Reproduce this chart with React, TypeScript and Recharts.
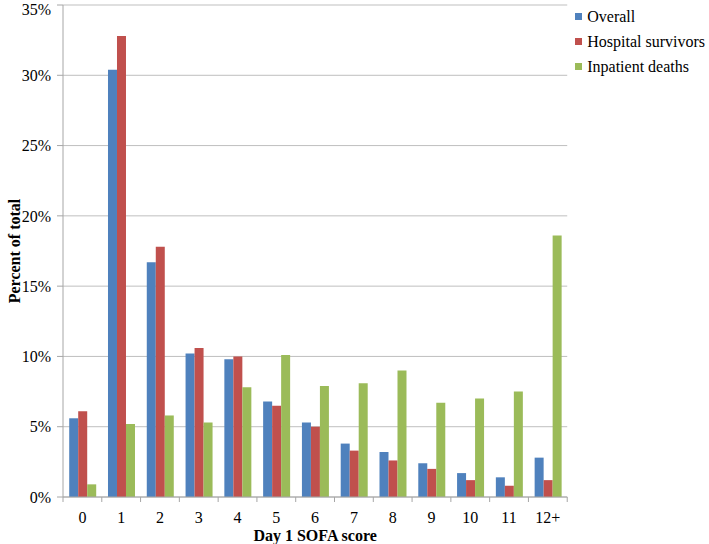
import { Bar, BarChart, CartesianGrid, Legend, XAxis, YAxis } from 'recharts'

const categories = ['0', '1', '2', '3', '4', '5', '6', '7', '8', '9', '10', '11', '12+']
const overall = [5.6, 30.4, 16.7, 10.2, 9.8, 6.8, 5.3, 3.8, 3.2, 2.4, 1.7, 1.4, 2.8]
const survivors = [6.1, 32.8, 17.8, 10.6, 10.0, 6.5, 5.0, 3.3, 2.6, 2.0, 1.2, 0.8, 1.2]
const deaths = [0.9, 5.2, 5.8, 5.3, 7.8, 10.1, 7.9, 8.1, 9.0, 6.7, 7.0, 7.5, 18.6]
const yTicks = [0, 5, 10, 15, 20, 25, 30, 35]

const series = [
  { key: 'overall', name: 'Overall', color: '#4F81BD' },
  { key: 'survivors', name: 'Hospital survivors', color: '#C0504D' },
  { key: 'deaths', name: 'Inpatient deaths', color: '#9BBB59' },
]

const chartData = categories.map((c, i) => ({
  score: c,
  overall: overall[i],
  survivors: survivors[i],
  deaths: deaths[i],
}))

const FONT = 'Liberation Serif'
const AXIS = '#a6a6a6'

const XTick = (props: any) => {
  const { x, y, payload, index, visibleTicksCount } = props
  const half = payload?.offset ?? 0
  return (
    <g>
      <line x1={x - half} x2={x - half} y1={y - 8} y2={y - 3} stroke={AXIS} />
      {index === visibleTicksCount - 1 && (
        <line x1={x + half} x2={x + half} y1={y - 8} y2={y - 3} stroke={AXIS} />
      )}
      <text x={x} y={y + 18} textAnchor="middle" fill="#000" fontSize={16} fontFamily={FONT}>
        {payload.value}
      </text>
    </g>
  )
}

const LegendBox = () => (
  <div style={{ fontFamily: FONT, fontSize: 16, color: '#000' }}>
    {series.map((s) => (
      <div key={s.key} style={{ display: 'flex', alignItems: 'center', height: 25 }}>
        <span style={{ width: 7, height: 7, background: s.color, marginRight: 5, display: 'inline-block' }} />
        {s.name}
      </div>
    ))}
  </div>
)

export default function App() {
  return (
    <div style={{ position: 'absolute', left: 0, top: 0, width: 709, height: 544, background: '#fff' }}>
      <BarChart
        width={709}
        height={544}
        data={chartData}
        margin={{ top: 5, right: 12, left: 0, bottom: 0 }}
        barCategoryGap="16%"
        barGap={0}
      >
        <CartesianGrid vertical={false} stroke="#bfbfbf" />
        <XAxis
          dataKey="score"
          height={47}
          stroke={AXIS}
          tickLine={false}
          tick={<XTick />}
          interval={0}
          label={{
            value: 'Day 1 SOFA score',
            position: 'insideBottom',
            offset: 3,
            style: { fill: '#000', fontSize: 16, fontWeight: 'bold', fontFamily: FONT },
          }}
        />
        <YAxis
          width={63}
          domain={[0, 35]}
          ticks={yTicks}
          stroke={AXIS}
          tickSize={6}
          tickMargin={6}
          tickFormatter={(v) => `${v}%`}
          tick={{ fill: '#000', fontSize: 16, fontFamily: FONT }}
          label={{
            value: 'Percent of total',
            angle: -90,
            position: 'insideLeft',
            offset: 14,
            style: { fill: '#000', fontSize: 16, fontWeight: 'bold', fontFamily: FONT, textAnchor: 'middle' },
          }}
        />
        <Legend
          layout="vertical"
          verticalAlign="top"
          align="right"
          content={<LegendBox />}
          wrapperStyle={{ top: 4, right: 4, left: 'auto', width: 'auto' }}
        />
        {series.map((s) => (
          <Bar key={s.key} dataKey={s.key} name={s.name} fill={s.color} isAnimationActive={false} />
        ))}
      </BarChart>
    </div>
  )
}
